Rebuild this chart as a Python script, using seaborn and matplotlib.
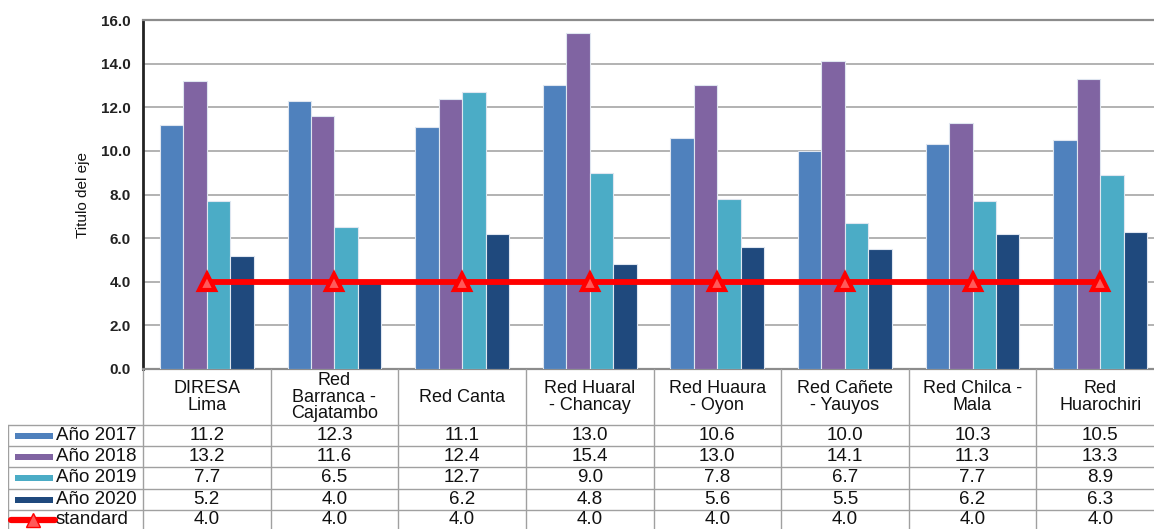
import numpy as np
import pandas as pd
import matplotlib
matplotlib.use("Agg")
import matplotlib.pyplot as plt
import seaborn as sns
from matplotlib.lines import Line2D
from matplotlib.patches import Rectangle

# Datos
redes = ["DIRESA\nLima", "Red\nBarranca -\nCajatambo", "Red Canta", "Red Huaral\n- Chancay",
         "Red Huaura\n- Oyon", "Red Cañete\n- Yauyos", "Red Chilca -\nMala", "Red\nHuarochiri"]
series = ["Año 2017", "Año 2018", "Año 2019", "Año 2020"]
anio_2017 = [11.2, 12.3, 11.1, 13.0, 10.6, 10.0, 10.3, 10.5]
anio_2018 = [13.2, 11.6, 12.4, 15.4, 13.0, 14.1, 11.3, 13.3]
anio_2019 = [7.7, 6.5, 12.7, 9.0, 7.8, 6.7, 7.7, 8.9]
anio_2020 = [5.2, 4.0, 6.2, 4.8, 5.6, 5.5, 6.2, 6.3]
standard = [4.0, 4.0, 4.0, 4.0, 4.0, 4.0, 4.0, 4.0]
colores = ["#4F81BD", "#8064A2", "#4BACC6", "#1F497D"]

valores = [anio_2017, anio_2018, anio_2019, anio_2020]
df = pd.DataFrame({
    "red": np.tile(redes, len(series)),
    "serie": np.repeat(series, len(redes)),
    "valor": np.concatenate(valores),
})

sns.set_style("white")
plt.rcParams["font.family"] = ["Liberation Sans", "DejaVu Sans"]

W, H = 1154, 529
fig = plt.figure(figsize=(W / 100, H / 100), dpi=100)

# Area del grafico (en pixeles de la imagen)
x0, x1, ytop, ybot = 143, 1164, 20, 369
ax = fig.add_axes([x0 / W, 1 - ybot / H, (x1 - x0) / W, (ybot - ytop) / H])

sns.barplot(data=df, x="red", y="valor", hue="serie", palette=colores, width=0.735,
            saturation=1, edgecolor="#dfe6f0", linewidth=0.8, legend=False, ax=ax,
            zorder=3)
sns.pointplot(x=redes, y=standard, color="red", markers="^", linestyles="-",
              errorbar=None, ax=ax, zorder=5, markersize=11, markeredgewidth=3,
              markerfacecolor="#ff5a5a", markeredgecolor="red", lw=4.2)

ax.set_xlim(-0.5, 7.5)
ax.set_ylim(0, 16)
ax.set_yticks(np.arange(0, 16.1, 2))
ax.set_yticklabels([f"{v:.1f}" for v in np.arange(0, 16.1, 2)], fontsize=11,
                   fontweight="bold", color="#222222")
ax.set_xticks([])
ax.set_xlabel("")
ax.set_ylabel("Titulo del eje", fontsize=11, labelpad=8, color="#111111")
ax.tick_params(axis="y", length=0, pad=9)
ax.yaxis.grid(True, color="#a6a6a6", linewidth=1.2, zorder=0)
ax.set_axisbelow(True)
for lado in ["top", "right", "bottom"]:
    ax.spines[lado].set_color("#8c8c8c")
    ax.spines[lado].set_linewidth(1.6)
ax.spines["left"].set_color("#222222")
ax.spines["left"].set_linewidth(2)

# Tabla de datos
cat_w = (x1 - x0) / 8
legw = (x0 - 8) / cat_w
tab = fig.add_axes([8 / W, (H - 533) / H, (x1 - 8) / W, 164 / H])
tab.set_xlim(-0.5 - legw, 7.5)
tab.set_ylim(164, 0)
tab.axis("off")

filas = [56, 77, 98, 120, 141, 164]
borde = "#a0a0a0"
for yb in filas[:-1]:
    tab.plot([-0.5 - legw, 7.5], [yb, yb], color=borde, lw=1)
tab.plot([-0.5 - legw, -0.5 - legw], [56, 164], color=borde, lw=1)
for k in range(9):
    tab.plot([-0.5 + k, -0.5 + k], [0, 164], color=borde, lw=1)

for i, nombre in enumerate(redes):
    tab.text(i, 28, nombre, ha="center", va="center", fontsize=13, linespacing=0.98,
             color="#111111")

nombres_filas = series + ["standard"]
datos_filas = valores + [standard]
for r, (nombre, fila) in enumerate(zip(nombres_filas, datos_filas)):
    yc = (filas[r] + filas[r + 1]) / 2
    if r == 4:
        yc = filas[r] + 10
    for i, v in enumerate(fila):
        tab.text(i, yc, f"{v:.1f}", ha="center", va="center", fontsize=13.5,
                 color="#111111")
    xl = -0.5 - legw
    if r < 4:
        tab.add_patch(Rectangle((xl + 7 / cat_w, yc - 3), 38 / cat_w, 6,
                                color=colores[r], lw=0))
    else:
        tab.add_line(Line2D([xl + 3 / cat_w, xl + 47 / cat_w], [yc, yc], color="red",
                            lw=4.5))
        tab.add_line(Line2D([xl + 25 / cat_w], [yc], marker="^", color="red",
                            markersize=10, markerfacecolor="#ff5a5a"))
    tab.text(xl + 48 / cat_w, yc, nombre, ha="left", va="center", fontsize=13.5,
             color="#111111")

fig.savefig("out.png", dpi=100)
